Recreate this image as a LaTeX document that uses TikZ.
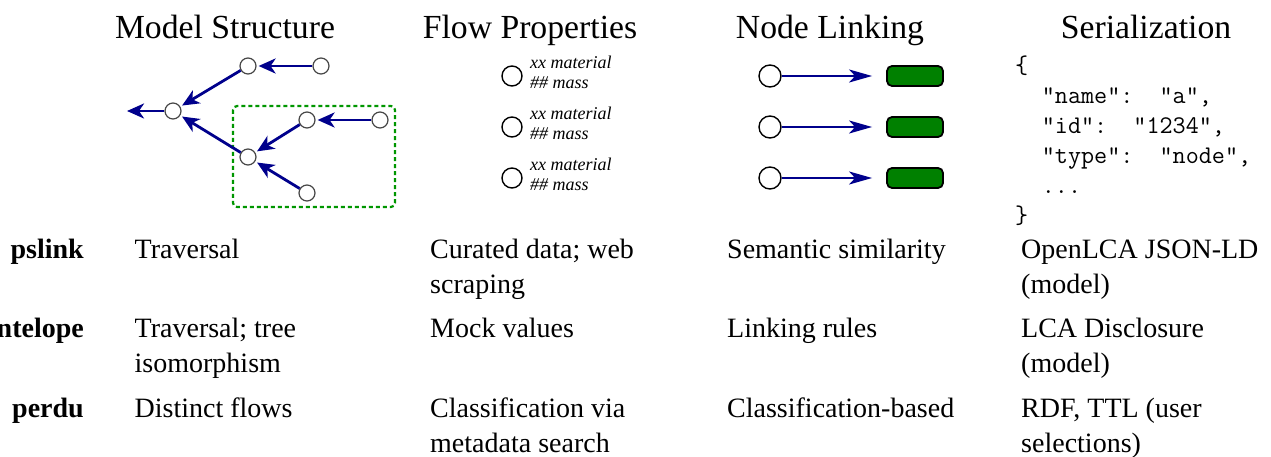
\documentclass[tikz,border=0pt]{standalone}
\usepackage{fontspec}
\setmainfont{Liberation Serif}
\setmonofont{Latin Modern Mono}
\usetikzlibrary{arrows.meta}
\definecolor{navyarrow}{RGB}{0,0,140}
\definecolor{boxgreen}{RGB}{0,150,0}
\definecolor{fillgreen}{RGB}{0,128,0}
\definecolor{circgray}{RGB}{70,70,70}
\begin{document}
\begin{tikzpicture}[x=1pt,y=-1pt,
  title/.style={font=\fontsize{33.7}{40}\selectfont, anchor=base, inner sep=0pt},
  body/.style={font=\fontsize{28}{34}\selectfont, anchor=base west, inner sep=0pt},
  tool/.style={font=\fontsize{28}{34}\selectfont\bfseries, anchor=base east, inner sep=0pt},
  tnode/.style={circle, draw=circgray, line width=1.2pt, minimum size=16pt, inner sep=0pt},
  tarrow/.style={draw=navyarrow, line width=2.8pt, -{Stealth[length=17pt,width=15pt,inset=5pt]}, shorten >=2pt},
  fnode/.style={circle, draw=black, line width=1.4pt, minimum size=20pt, inner sep=0pt},
  ftext/.style={font=\fontsize{18}{20}\selectfont\itshape, anchor=base west, inner sep=0pt},
  lnode/.style={circle, draw=black, line width=1.4pt, minimum size=22pt, inner sep=0pt},
  lrect/.style={rectangle, rounded corners=5pt, draw=black, line width=1.8pt, fill=fillgreen, minimum width=56pt, minimum height=20pt, inner sep=0pt},
  larrow/.style={draw=navyarrow, line width=2pt, -{Stealth[length=23pt,width=13pt,inset=6pt]}, shorten >=14pt},
  code/.style={font=\fontsize{25.4}{30}\selectfont\ttfamily, anchor=base west, inner sep=0pt},
  groupbox/.style={draw=boxgreen, line width=2.2pt, dash pattern=on 4pt off 3pt, rounded corners=4pt},
]
\useasboundingbox (0,0) rectangle (1271,457);

% titles
\node[title] (t1) at (225,39) {Model Structure};
\node[title] (t2) at (530,39) {Flow Properties};
\node[title] (t3) at (830,39) {Node Linking};
\node[title] (t4) at (1146,39) {Serialization};

% model structure tree
\draw[groupbox] (233,106) rectangle (395,207);
\node[tnode] (r) at (173,111) {};
\node[tnode] (a) at (248,66) {};
\node[tnode] (b) at (321,66) {};
\node[tnode] (c) at (248,157) {};
\node[tnode] (d) at (307,120) {};
\node[tnode] (e) at (380,120) {};
\node[tnode] (f) at (307,193) {};
\coordinate (out) at (127,111);
\draw[tarrow, shorten >=0pt] (r) -- (out);
\draw[tarrow] (b) -- (a);
\draw[tarrow] (a) -- (r);
\draw[tarrow] (c) -- (r);
\draw[tarrow] (d) -- (c);
\draw[tarrow] (e) -- (d);
\draw[tarrow] (f) -- (c);

% flow properties
\foreach \i/\y in {1/76,2/127,3/178}{
  \node[fnode] (fp\i) at (512,\y) {};
  \node[ftext] (fm\i) at (530,\y-7) {xx material};
  \node[ftext] (fs\i) at (530,\y+13) {\#\# mass};
}

% node linking
\foreach \i/\y in {1/76,2/127,3/178}{
  \node[lnode] (ln\i) at (770,\y) {};
  \node[lrect] (lr\i) at (915,\y) {};
  \draw[larrow] (ln\i) -- (lr\i);
}

% serialization code
\node[code] (c1) at (1015,73.5) {\{};
\node[code] (c2) at (1041.7,103.5) {"name":~~"a",};
\node[code] (c3) at (1041.7,133.5) {"id":~~"1234",};
\node[code] (c4) at (1041.7,163.5) {"type":~~"node",};
\node[code] (c5) at (1041.7,193.5) {...};
\node[code] (c6) at (1015,223.5) {\}};

% table rows
\node[tool] (p1) at (84,258) {pslink};
\node[body] (m1) at (134.5,258) {Traversal};
\node[body] (f1a) at (430,258) {Curated data; web};
\node[body] (f1b) at (430,293) {scraping};
\node[body] (n1) at (727,258) {Semantic similarity};
\node[body] (s1a) at (1021,258) {OpenLCA JSON-LD};
\node[body] (s1b) at (1021,293) {(model)};

\node[tool] (p2) at (84,337) {antelope};
\node[body] (m2a) at (134.5,337) {Traversal; tree};
\node[body] (m2b) at (134.5,372) {isomorphism};
\node[body] (f2) at (430,337) {Mock values};
\node[body] (n2) at (727,337) {Linking rules};
\node[body] (s2a) at (1021,337) {LCA Disclosure};
\node[body] (s2b) at (1021,372) {(model)};

\node[tool] (p3) at (84,417) {perdu};
\node[body] (m3) at (134.5,417) {Distinct flows};
\node[body] (f3a) at (430,417) {Classification via};
\node[body] (f3b) at (430,452) {metadata search};
\node[body] (n3) at (727,417) {Classification-based};
\node[body] (s3a) at (1021,417) {RDF, TTL (user};
\node[body] (s3b) at (1021,452) {selections)};
\end{tikzpicture}
\end{document}
